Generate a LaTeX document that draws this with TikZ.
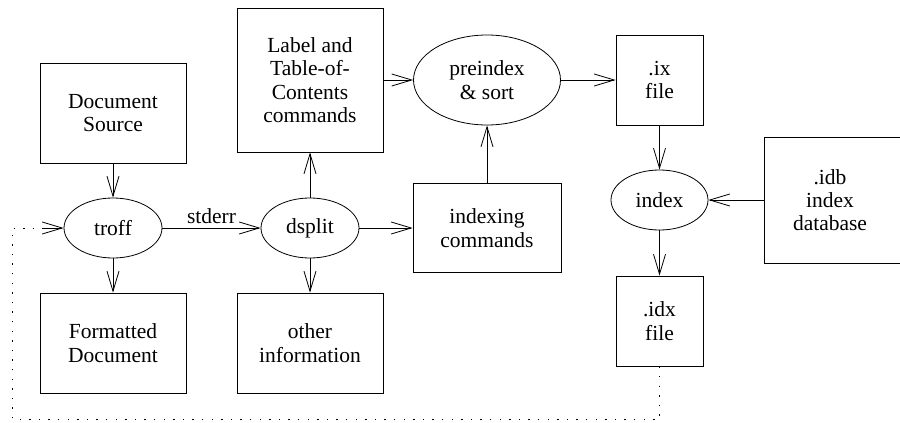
\documentclass[tikz,border=0pt]{standalone}
\usepackage{fontspec}
\setmainfont{Liberation Serif}
\newfontfamily\diagfont{Liberation Serif}
\usetikzlibrary{shapes.geometric,arrows.meta}
\tikzset{
  box/.style={draw, rectangle, inner sep=0pt, align=center},
  oval/.style={draw, ellipse, inner sep=0pt, align=center},
  conn/.style={-{Straight Barb[length=20pt,width=12pt]}},
  dotline/.style={dash pattern=on 1.4pt off 8.2pt},
}
\begin{document}
\begin{tikzpicture}[x=1pt,y=-1pt,line width=0.8pt,
  every node/.style={font=\diagfont\fontsize{21.5}{23.3}\selectfont}]
\useasboundingbox (0,0) rectangle (900,423);
% boxes
\node[box, minimum width=146pt, minimum height=100pt] (src) at (113,113) {Document\\Source};
\node[oval, minimum width=98pt, minimum height=60pt] (troff) at (113,228) {troff};
\node[box, minimum width=146pt, minimum height=100pt] (fmt) at (113,343) {Formatted\\Document};
\node[box, minimum width=146pt, minimum height=144pt] (lbl) at (310,80) {Label and\\Table-of-\\Contents\\commands};
\node[oval, minimum width=98pt, minimum height=60pt] (dsplit) at (310,228) {dsplit};
\node[box, minimum width=146pt, minimum height=100pt] (other) at (310,343) {other\\information};
\node[box, minimum width=148pt, minimum height=89pt] (idxcmd) at (487,228) {indexing\\commands};
\node[oval, minimum width=147pt, minimum height=90pt] (pre) at (487,80) {preindex\\\& sort};
\node[box, minimum width=87pt, minimum height=90pt] (ix) at (659.5,80) {.ix\\file};
\node[oval, minimum width=97pt, minimum height=60pt] (index) at (659.5,200) {index};
\node[box, minimum width=142pt, minimum height=126pt] (idb) at (835,200) {};
\node[align=center] (idbtext) at (830,200) {.idb\\index\\database};
\node[box, minimum width=87pt, minimum height=90pt] (idx) at (659.5,321) {.idx\\file};
\coordinate (c1) at (659.5,419);
\coordinate (c2) at (12,419);
\coordinate (c3) at (12,228);
% connectors
\draw[conn] (src) -- (troff);
\draw[conn] (troff) -- (fmt);
\draw[conn] (troff) -- node[above=1pt] {stderr} (dsplit);
\draw[conn] (dsplit) -- (lbl);
\draw[conn] (dsplit) -- (other);
\draw[conn] (dsplit) -- (idxcmd);
\draw[conn] (idxcmd) -- (pre);
\draw[conn] (lbl.east) -- (pre.west);
\draw[conn] (pre) -- (ix);
\draw[conn] (ix) -- (index);
\draw[conn] (idb.west) -- (index.east);
\draw[conn] (index) -- (idx);
\draw[dotline] (idx.south) -- (c1) -- (c2) -- (c3) -- ([xshift=-20pt]troff.west);
\draw[conn] ([xshift=-20pt]troff.west) -- (troff.west);
\end{tikzpicture}
\end{document}
